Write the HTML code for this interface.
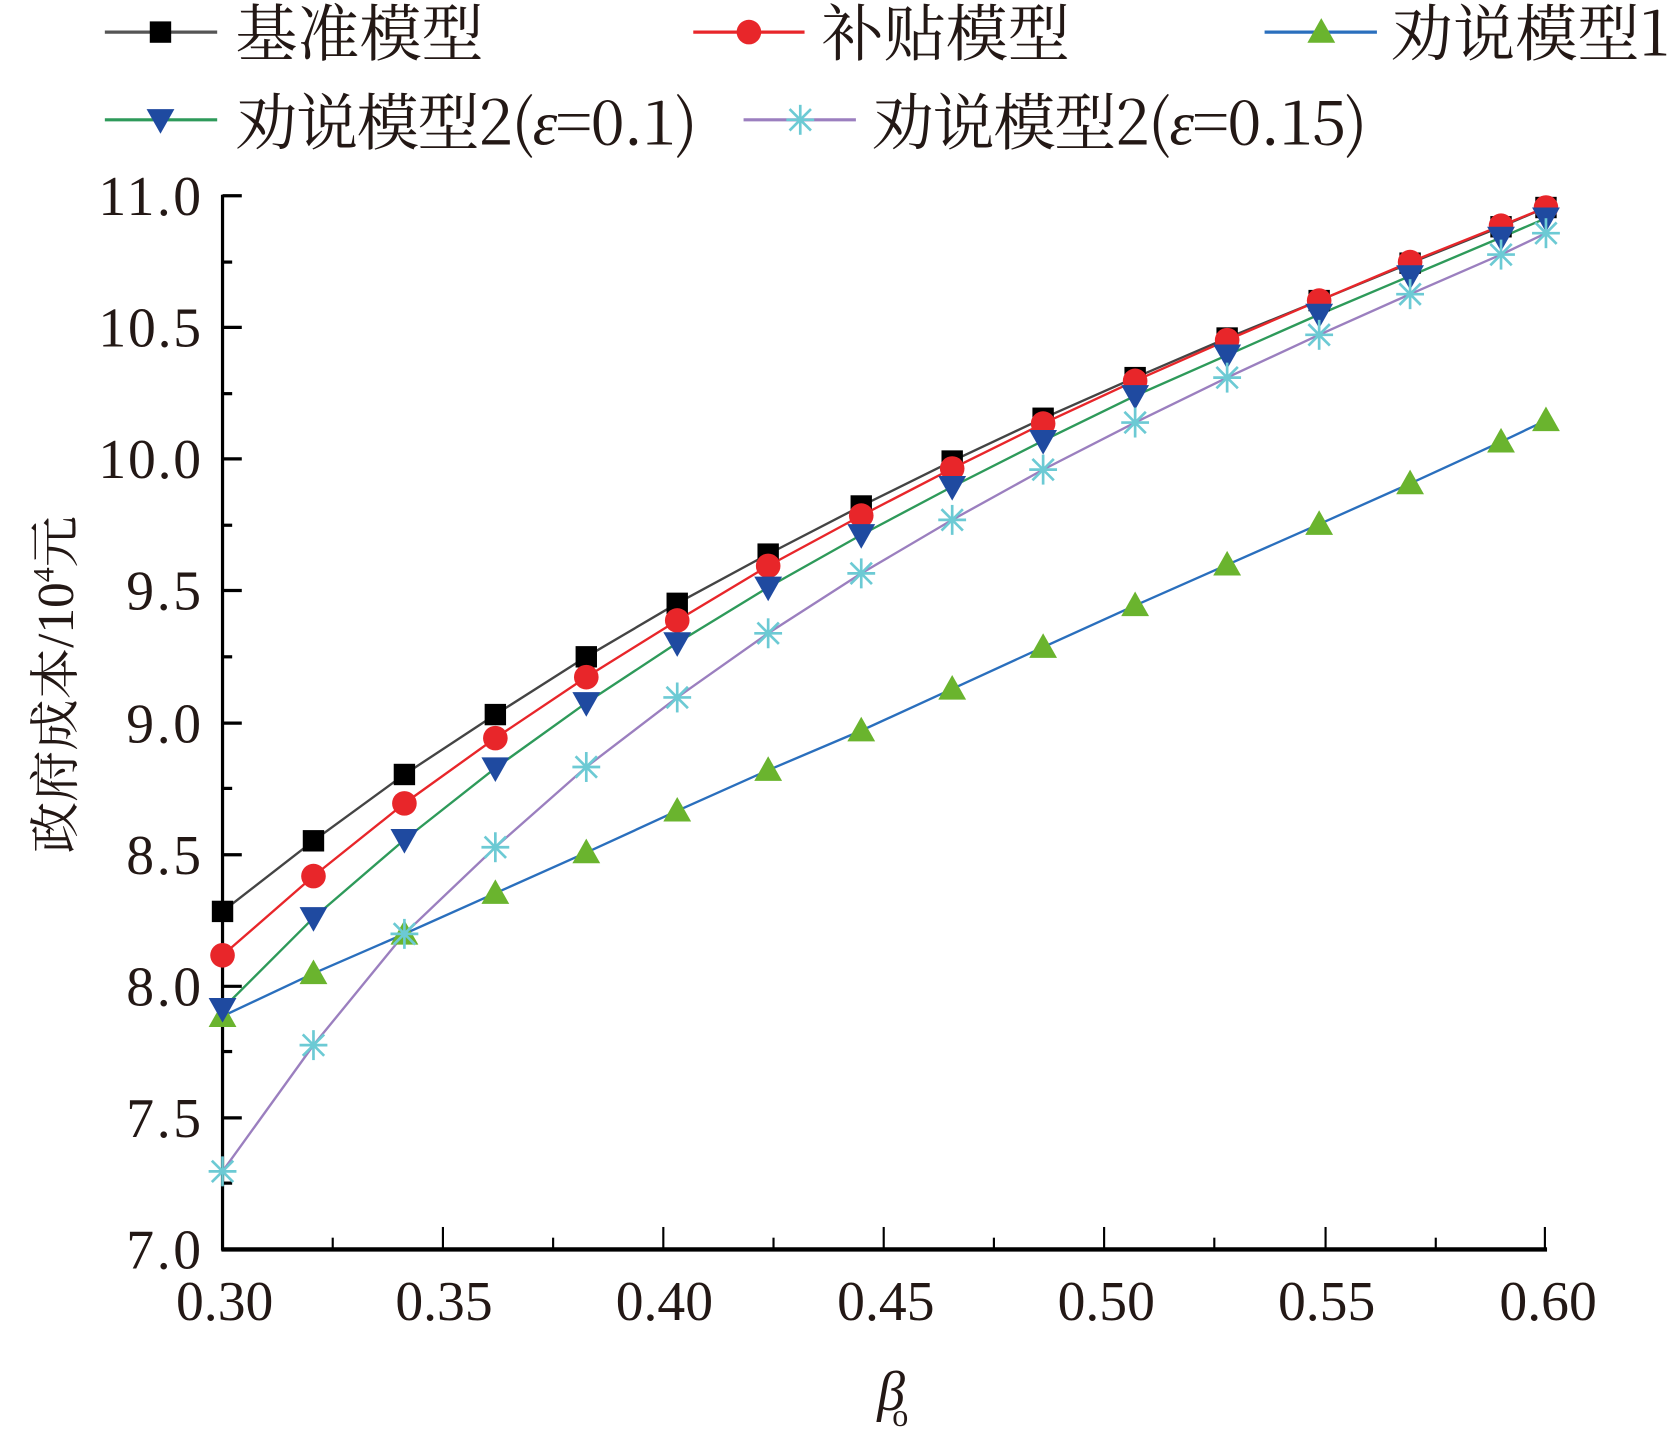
<!DOCTYPE html>
<html><head><meta charset="utf-8"><style>html,body{margin:0;padding:0;background:#fff}svg{display:block}</style></head>
<body>
<svg width="1669" height="1442" viewBox="0 0 1560 1348" preserveAspectRatio="none" xmlns="http://www.w3.org/2000/svg">
<defs>
<g id="sq"><rect x="-10" y="-10" width="20" height="20" fill="#000"/></g>
<g id="ci"><circle r="11.5" fill="#e8262a"/></g>
<g id="tu"><polygon points="0,-13 13,10 -13,10" fill="#6ab42e"/></g>
<g id="td"><polygon points="0,13 13,-10 -13,-10" fill="#1f4aa0"/></g>
<g id="st" stroke="#6ccad4" stroke-width="2.5" fill="none"><line x1="-13" y1="0" x2="13" y2="0"/><line x1="0" y1="-14" x2="0" y2="14"/><line x1="-10" y1="-10" x2="10" y2="10"/><line x1="-10" y1="10" x2="10" y2="-10"/></g>
</defs>
<g font-family="'Liberation Serif','Noto Serif CJK SC',serif" fill="#231815">
<!-- legend -->
<line x1="98" y1="30" x2="203" y2="30" stroke="#555" stroke-width="3"/><use href="#sq" x="150" y="30"/>
<text x="220" y="52" font-size="58" font-family="'Noto Serif CJK SC',serif" textLength="232">基准模型</text>
<line x1="648" y1="30" x2="752" y2="30" stroke="#e8262a" stroke-width="3"/><use href="#ci" x="700" y="30"/>
<text x="768" y="52" font-size="58" font-family="'Noto Serif CJK SC',serif" textLength="232">补贴模型</text>
<line x1="1182" y1="30" x2="1287" y2="30" stroke="#2a6fbd" stroke-width="3"/><use href="#tu" x="1235" y="30"/>
<text x="1300" y="52" font-size="58" font-family="'Noto Serif CJK SC',serif" textLength="260">劝说模型1</text>
<line x1="98" y1="112" x2="203" y2="112" stroke="#2e9a5a" stroke-width="3"/><use href="#td" x="150" y="112"/>
<text x="220" y="135" font-size="58" font-family="'Noto Serif CJK SC',serif" textLength="432">劝说模型2(<tspan font-style="italic" font-family="'Liberation Serif',serif">ε</tspan>=0.1)</text>
<line x1="695" y1="112" x2="800" y2="112" stroke="#9b7fbf" stroke-width="3"/><use href="#st" x="748" y="112"/>
<text x="815" y="135" font-size="58" font-family="'Noto Serif CJK SC',serif" textLength="463">劝说模型2(<tspan font-style="italic" font-family="'Liberation Serif',serif">ε</tspan>=0.15)</text>
<!-- axes -->
<line x1="208" y1="182" x2="208" y2="1169" stroke="#000" stroke-width="3"/>
<line x1="207" y1="1168" x2="1446" y2="1168" stroke="#000" stroke-width="4"/>
<g stroke="#000" stroke-width="3">
<line x1="208" y1="183" x2="226" y2="183"/><line x1="208" y1="306" x2="226" y2="306"/><line x1="208" y1="429" x2="226" y2="429"/><line x1="208" y1="552" x2="226" y2="552"/><line x1="208" y1="676" x2="226" y2="676"/><line x1="208" y1="799" x2="226" y2="799"/><line x1="208" y1="922" x2="226" y2="922"/><line x1="208" y1="1045" x2="226" y2="1045"/>
<line x1="208" y1="245" x2="217" y2="245"/><line x1="208" y1="368" x2="217" y2="368"/><line x1="208" y1="491" x2="217" y2="491"/><line x1="208" y1="614" x2="217" y2="614"/><line x1="208" y1="737" x2="217" y2="737"/><line x1="208" y1="860" x2="217" y2="860"/><line x1="208" y1="983" x2="217" y2="983"/><line x1="208" y1="1106" x2="217" y2="1106"/>
</g>
<g stroke="#000" stroke-width="2">
<line x1="414" y1="1168" x2="414" y2="1147"/><line x1="620" y1="1168" x2="620" y2="1147"/><line x1="826" y1="1168" x2="826" y2="1147"/><line x1="1032" y1="1168" x2="1032" y2="1147"/><line x1="1239" y1="1168" x2="1239" y2="1147"/><line x1="1444" y1="1168" x2="1444" y2="1147"/>
<line x1="311" y1="1168" x2="311" y2="1157"/><line x1="517" y1="1168" x2="517" y2="1157"/><line x1="723" y1="1168" x2="723" y2="1157"/><line x1="929" y1="1168" x2="929" y2="1157"/><line x1="1135" y1="1168" x2="1135" y2="1157"/><line x1="1342" y1="1168" x2="1342" y2="1157"/>
</g>
<g font-size="52" text-anchor="end">
<text x="188" y="201" textLength="96">11.0</text><text x="188" y="324" textLength="96">10.5</text><text x="188" y="447" textLength="96">10.0</text><text x="188" y="570" textLength="70">9.5</text><text x="188" y="694" textLength="70">9.0</text><text x="188" y="817" textLength="70">8.5</text><text x="188" y="940" textLength="70">8.0</text><text x="188" y="1063" textLength="70">7.5</text><text x="188" y="1186" textLength="70">7.0</text>
</g>
<g font-size="52" text-anchor="middle">
<text x="210" y="1234">0.30</text><text x="415" y="1234">0.35</text><text x="621" y="1234">0.40</text><text x="828" y="1234">0.45</text><text x="1034" y="1234">0.50</text><text x="1240" y="1234">0.55</text><text x="1447" y="1234">0.60</text>
</g>
<text x="820" y="1318" font-size="52" font-style="italic">β</text><text x="834" y="1333" font-size="30">o</text>
<text transform="translate(68,640) rotate(-90)" text-anchor="middle" font-size="48"><tspan font-family="'Noto Serif CJK SC',serif">政府成本</tspan>/10<tspan font-size="28" dy="-18">4</tspan><tspan dy="18" font-family="'Noto Serif CJK SC',serif">元</tspan></text>
</g>
<!-- series -->
<g fill="none" stroke-width="2.2">
<polyline stroke="#444" points="208,852 293,786 378,724 463,668 548,614 633,564 718,518 805,473 890,431 975,391 1061,353 1147,316 1233,281 1318,246 1403,212 1445,194"/>
<polyline stroke="#e8262a" points="208,893 293,819 378,751 463,690 548,633 633,580 718,529 805,482 890,438 975,396 1061,356 1147,318 1233,281 1318,245 1403,211 1445,194"/>
<polyline stroke="#2e9a5a" points="208,943 293,858 378,785 463,718 548,657 633,601 718,549 805,500 890,455 975,412 1061,370 1147,332 1233,294 1318,258 1403,222 1445,204"/>
<polyline stroke="#2a6fbd" points="208,950 293,910 378,873 463,835 548,797 633,758 718,720 805,683 890,644 975,605 1061,566 1147,528 1233,490 1318,452 1403,413 1445,393"/>
<polyline stroke="#9b7fbf" points="208,1095 293,977 378,873 463,792 548,717 633,652 718,592 805,536 890,486 975,439 1061,395 1147,353 1233,313 1318,275 1403,238 1445,218"/>
</g>
<g>
<use href="#sq" x="208" y="852"/><use href="#sq" x="293" y="786"/><use href="#sq" x="378" y="724"/><use href="#sq" x="463" y="668"/><use href="#sq" x="548" y="614"/><use href="#sq" x="633" y="564"/><use href="#sq" x="718" y="518"/><use href="#sq" x="805" y="473"/><use href="#sq" x="890" y="431"/><use href="#sq" x="975" y="391"/><use href="#sq" x="1061" y="353"/><use href="#sq" x="1147" y="316"/><use href="#sq" x="1233" y="281"/><use href="#sq" x="1318" y="246"/><use href="#sq" x="1403" y="212"/><use href="#sq" x="1445" y="194"/>
<use href="#ci" x="208" y="893"/><use href="#ci" x="293" y="819"/><use href="#ci" x="378" y="751"/><use href="#ci" x="463" y="690"/><use href="#ci" x="548" y="633"/><use href="#ci" x="633" y="580"/><use href="#ci" x="718" y="529"/><use href="#ci" x="805" y="482"/><use href="#ci" x="890" y="438"/><use href="#ci" x="975" y="396"/><use href="#ci" x="1061" y="356"/><use href="#ci" x="1147" y="318"/><use href="#ci" x="1233" y="281"/><use href="#ci" x="1318" y="245"/><use href="#ci" x="1403" y="211"/><use href="#ci" x="1445" y="194"/>
<use href="#tu" x="208" y="950"/><use href="#tu" x="293" y="910"/><use href="#tu" x="378" y="873"/><use href="#tu" x="463" y="835"/><use href="#tu" x="548" y="797"/><use href="#tu" x="633" y="758"/><use href="#tu" x="718" y="720"/><use href="#tu" x="805" y="683"/><use href="#tu" x="890" y="644"/><use href="#tu" x="975" y="605"/><use href="#tu" x="1061" y="566"/><use href="#tu" x="1147" y="528"/><use href="#tu" x="1233" y="490"/><use href="#tu" x="1318" y="452"/><use href="#tu" x="1403" y="413"/><use href="#tu" x="1445" y="393"/>
<use href="#td" x="208" y="943"/><use href="#td" x="293" y="858"/><use href="#td" x="378" y="785"/><use href="#td" x="463" y="718"/><use href="#td" x="548" y="657"/><use href="#td" x="633" y="601"/><use href="#td" x="718" y="549"/><use href="#td" x="805" y="500"/><use href="#td" x="890" y="455"/><use href="#td" x="975" y="412"/><use href="#td" x="1061" y="370"/><use href="#td" x="1147" y="332"/><use href="#td" x="1233" y="294"/><use href="#td" x="1318" y="258"/><use href="#td" x="1403" y="222"/><use href="#td" x="1445" y="204"/>
<use href="#st" x="208" y="1095"/><use href="#st" x="293" y="977"/><use href="#st" x="378" y="873"/><use href="#st" x="463" y="792"/><use href="#st" x="548" y="717"/><use href="#st" x="633" y="652"/><use href="#st" x="718" y="592"/><use href="#st" x="805" y="536"/><use href="#st" x="890" y="486"/><use href="#st" x="975" y="439"/><use href="#st" x="1061" y="395"/><use href="#st" x="1147" y="353"/><use href="#st" x="1233" y="313"/><use href="#st" x="1318" y="275"/><use href="#st" x="1403" y="238"/><use href="#st" x="1445" y="218"/>
</g>
</svg>
</body></html>
